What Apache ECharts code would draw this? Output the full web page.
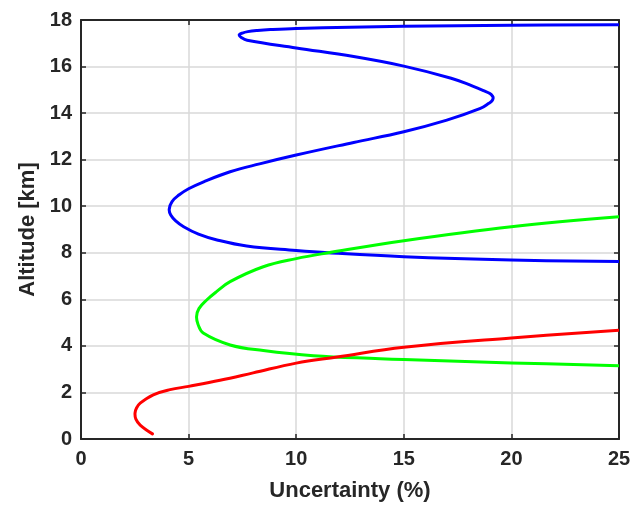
<!DOCTYPE html>
<html>
<head>
<meta charset="utf-8">
<script src="https://cdn.jsdelivr.net/npm/echarts@6/dist/echarts.min.js"></script>
<style>
  html, body { margin: 0; padding: 0; background: #ffffff; }
  #chart { width: 635px; height: 513px; }
</style>
</head>
<body>
<div id="chart"></div>
<script>
// Altitude profiles of retrieval uncertainty (percent) for three layers.
const xTicks = [0, 5, 10, 15, 20, 25];
const yTicks = [0, 2, 4, 6, 8, 10, 12, 14, 16, 18];

// Upper layer (blue)
const blueUnc = [25, 20, 15, 12.5, 10, 8.8, 8.2, 7.75, 7.5, 7.35, 7.45, 7.72, 10, 12.67, 15, 17.2, 18.2, 18.7, 19.0, 19.13, 19.15, 19.1, 18.95, 18.56, 17.0, 15, 12.67, 10, 8.3, 6.93, 5.7, 5.0, 4.55, 4.23, 4.1, 4.17, 4.4, 4.77, 5.46, 6.32, 7.7, 10, 11.5, 15, 20, 25];
const blueAlt = [17.8, 17.77, 17.73, 17.69, 17.64, 17.59, 17.55, 17.5, 17.44, 17.36, 17.25, 17.13, 16.8, 16.43, 16.02, 15.5, 15.16, 14.97, 14.84, 14.72, 14.64, 14.53, 14.42, 14.2, 13.7, 13.2, 12.74, 12.2, 11.82, 11.48, 11.05, 10.75, 10.48, 10.2, 9.87, 9.62, 9.37, 9.12, 8.8, 8.55, 8.29, 8.1, 8.0, 7.83, 7.69, 7.62];

// Middle layer (green)
const greenUnc = [25, 20, 15, 11.5, 10, 8.47, 6.93, 6.3, 5.84, 5.48, 5.37, 5.44, 5.68, 6.93, 8.47, 10.8, 13.9, 15, 20, 25];
const greenAlt = [9.55, 9.12, 8.52, 8.0, 7.75, 7.4, 6.76, 6.33, 5.97, 5.6, 5.26, 4.92, 4.55, 4.04, 3.8, 3.58, 3.45, 3.41, 3.27, 3.15];

// Lower layer (red)
const redUnc = [3.32, 2.75, 2.55, 2.51, 2.58, 2.75, 3.36, 4.14, 5, 6.46, 8.0, 10, 11.9, 15, 20, 25];
const redAlt = [0.22, 0.6, 0.85, 1.11, 1.33, 1.54, 1.9, 2.12, 2.26, 2.52, 2.84, 3.26, 3.52, 3.94, 4.34, 4.67];

const pairs = (xs, ys) => xs.map((x, i) => [x, ys[i]]);

const labelFont = 'Liberation Sans, Arial, Helvetica, sans-serif';
const dark = '#262626';

const tickLabel = { fontFamily: labelFont, fontSize: 20, fontWeight: 'bold', color: dark };
const axisLine = { show: true, onZero: false, lineStyle: { color: dark, width: 2 } };
const innerTick = { show: true, inside: true, length: 5, lineStyle: { color: dark, width: 1.5 } };
const gridLine = { show: true, lineStyle: { color: '#d9d9d9', width: 1.5 } };

const xMin = xTicks[0], xMax = xTicks[xTicks.length - 1], xStep = xTicks[1] - xTicks[0];
const yMin = yTicks[0], yMax = yTicks[yTicks.length - 1], yStep = yTicks[1] - yTicks[0];

const chart = echarts.init(document.getElementById('chart'), null, { renderer: 'canvas' });

// Each profile is one smooth stroke through its points, placed with the axis scales.
const curveSeries = (name, color, xs, ys) => {
  const data = pairs(xs, ys);
  return {
    name, type: 'custom', coordinateSystem: 'cartesian2d', xAxisIndex: 0, yAxisIndex: 0,
    data, encode: { x: 0, y: 1 }, clip: true, z: 5,
    renderItem: (params, api) => {
      if (params.dataIndex !== 0) return null;
      const points = data.map(d => api.coord(d));
      return {
        type: 'polyline',
        shape: { points, smooth: 0.4 },
        style: { stroke: color, lineWidth: 3, fill: null, lineJoin: 'round', lineCap: 'round' }
      };
    }
  };
};

chart.setOption({
  animation: false,
  backgroundColor: '#ffffff',
  grid: { left: 81, right: 16, top: 20, bottom: 74, containLabel: false },
  xAxis: [
    {
      type: 'value', position: 'bottom', min: xMin, max: xMax, interval: xStep,
      name: 'Uncertainty (%)', nameLocation: 'middle', nameGap: 41,
      nameTextStyle: { fontFamily: labelFont, fontSize: 22, fontWeight: 'bold', color: dark },
      axisLine, axisTick: innerTick, splitLine: gridLine,
      axisLabel: Object.assign({ margin: 10 }, tickLabel)
    },
    {
      type: 'value', position: 'top', min: xMin, max: xMax, interval: xStep,
      axisLine, axisTick: innerTick, splitLine: { show: false }, axisLabel: { show: false }
    }
  ],
  yAxis: [
    {
      type: 'value', position: 'left', min: yMin, max: yMax, interval: yStep,
      name: 'Altitude [km]', nameLocation: 'middle', nameGap: 40, nameRotate: 90,
      nameTextStyle: { fontFamily: labelFont, fontSize: 22, fontWeight: 'bold', color: dark },
      axisLine, axisTick: innerTick, splitLine: gridLine,
      axisLabel: Object.assign({ margin: 9 }, tickLabel)
    },
    {
      type: 'value', position: 'right', min: yMin, max: yMax, interval: yStep,
      axisLine, axisTick: innerTick, splitLine: { show: false }, axisLabel: { show: false }
    }
  ],
  series: [
    curveSeries('Upper', '#0000ff', blueUnc, blueAlt),
    curveSeries('Middle', '#00ff00', greenUnc, greenAlt),
    curveSeries('Lower', '#ff0000', redUnc, redAlt)
  ]
});
</script>
</body>
</html>
